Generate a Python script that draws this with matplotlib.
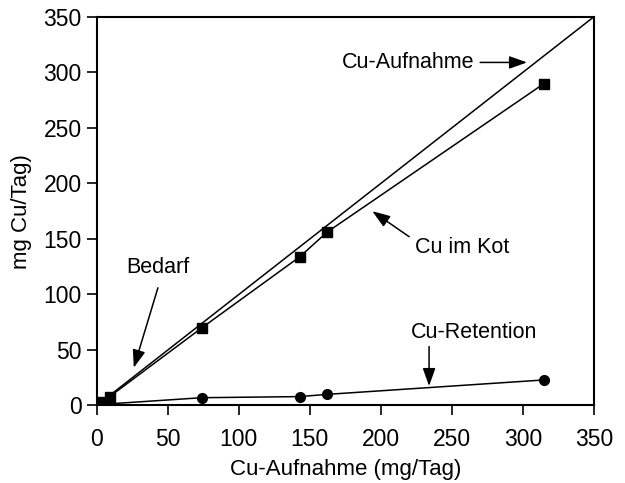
import matplotlib
matplotlib.use('Agg')
import matplotlib.pyplot as plt

# Cu-Aufnahme vs. Ausscheidung / Retention (mg/Tag)
aufnahme = [3, 9, 74, 143, 162, 315]
kot = [3, 8, 70, 134, 156, 290]
retention = [0.5, 1.5, 7, 8, 10, 23]
intake_line = [0, 350]
ticks = [0, 50, 100, 150, 200, 250, 300, 350]

plt.rcParams['font.family'] = ['Liberation Sans', 'DejaVu Sans']
plt.rcParams['font.size'] = 15.5

fig = plt.figure(figsize=(6.25, 4.83), dpi=100)
ax = fig.add_axes([0.155, 0.1605, 0.795, 0.8045])

# line of intake (y = x)
ax.plot(intake_line, intake_line, color='black', lw=1.1)
ax.plot(aufnahme, kot, color='black', lw=1.1, marker='s', ms=7)
ax.plot(aufnahme, retention, color='black', lw=1.1, marker='o', ms=7)

ax.set_xlim(0, 350)
ax.set_ylim(0, 350)
ax.set_xticks(ticks)
ax.set_yticks(ticks)
ax.tick_params(direction='out', length=7, width=1.2, pad=4, labelsize=16.5)
ax.tick_params(axis='x', pad=9)
for s in ax.spines.values():
    s.set_linewidth(1.5)

ax.set_xlabel('Cu-Aufnahme (mg/Tag)', labelpad=6, fontsize=16)
ax.set_ylabel('mg Cu/Tag)', labelpad=8, fontsize=16)

arrow = dict(arrowstyle='-|>,head_length=0.7,head_width=0.25', color='black',
             lw=1.1, shrinkA=0, shrinkB=0)

ax.text(219, 309, 'Cu-Aufnahme', ha='center', va='center')
ax.annotate('', xy=(303, 309), xytext=(270, 309), arrowprops=arrow)

ax.text(257, 142, 'Cu im Kot', ha='center', va='center')
ax.annotate('', xy=(194, 175), xytext=(220, 152), arrowprops=arrow)

ax.text(43, 124, 'Bedarf', ha='center', va='center')
ax.annotate('', xy=(26, 34), xytext=(43, 106), arrowprops=arrow)

ax.text(266, 66, 'Cu-Retention', ha='center', va='center')
ax.annotate('', xy=(234, 17.5), xytext=(234, 53), arrowprops=arrow)

fig.savefig('out.png', dpi=100)
